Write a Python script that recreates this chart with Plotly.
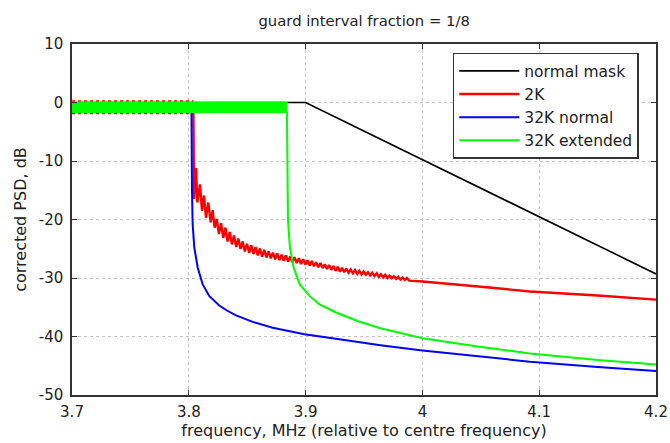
import plotly.graph_objects as go

# ---------------- data ----------------
mask_x = [3.7, 3.9, 4.2]
mask_y = [0.0, 0.0, -29.3]

# 2K: rippling flat part (envelope edges) then decaying rippled tail
red_flat_x = [3.7, 3.804]
red_flat_upper = [0.25, 0.25]
red_flat_lower = [-1.9, -1.9]

red_x = [3.7, 3.8039, 3.8045, 3.80616, 3.80731, 3.80959, 3.8113, 3.8130, 3.8147,
         3.8167, 3.8187, 3.8204, 3.8221,
         3.8239, 3.8258, 3.8276, 3.8295, 3.8313, 3.8332, 3.8350, 3.8369, 3.8387, 3.8406,
         3.8424, 3.8443, 3.8461, 3.8480, 3.8498, 3.8517, 3.8535, 3.8554, 3.8572, 3.8591,
         3.8609, 3.8628, 3.8646, 3.8665, 3.8683, 3.8702, 3.8720, 3.8739, 3.8757, 3.8776,
         3.8794, 3.8813, 3.8831, 3.8850, 3.8868, 3.8887, 3.8905, 3.8924, 3.8942, 3.8961,
         3.8979, 3.8998, 3.9016, 3.9035, 3.9053, 3.9072, 3.9090, 3.9109, 3.9127, 3.9146,
         3.9164, 3.9183, 3.9201, 3.9220, 3.9238, 3.9257, 3.9275, 3.9294, 3.9312, 3.9331,
         3.9349, 3.9368, 3.9386, 3.9405, 3.9423, 3.9442, 3.9460, 3.9479, 3.9497, 3.9516,
         3.9534, 3.9553, 3.9571, 3.9590, 3.9608, 3.9627, 3.9645, 3.9664, 3.9682, 3.9701,
         3.9719, 3.9738, 3.9756, 3.9775, 3.9793, 3.9812, 3.9830, 3.9849, 3.9867, 3.9886,
         4.0, 4.05, 4.092, 4.15, 4.2]
red_y = [-1.5, -1.5, -16.5, -11.2, -17.1, -14.0, -18.5, -15.9, -19.7,
         -17.1, -20.5, -18.4, -21.4,
         -19.9, -22.5, -20.65, -23.15, -21.4, -23.75, -22.15, -24.25, -22.75, -24.7,
         -23.25, -25.05, -23.75, -25.45, -24.15, -25.7, -24.4, -25.9, -24.7, -26.15,
         -24.95, -26.35, -25.2, -26.5, -25.4, -26.65, -25.65, -26.8, -25.8, -26.95,
         -26.0, -27.05, -26.15, -27.2, -26.3, -27.3, -26.45, -27.45, -26.6, -27.6,
         -26.8, -27.7, -26.95, -27.85, -27.1, -28.0, -27.3, -28.15, -27.45, -28.3,
         -27.65, -28.45, -27.8, -28.6, -27.95, -28.75, -28.1, -28.9, -28.25, -29.0,
         -28.4, -29.1, -28.55, -29.2, -28.65, -29.3, -28.75, -29.4, -28.9, -29.45,
         -29.0, -29.55, -29.1, -29.65, -29.2, -29.8, -29.35, -29.9, -29.45, -30.0,
         -29.6, -30.05, -29.7, -30.15, -29.8, -30.25, -29.9, -30.35, -30.0, -30.45,
         -30.6, -31.5, -32.3, -33.0, -33.7]

# 32K normal
blue_x = [3.7, 3.8023, 3.80274, 3.8033, 3.8047, 3.8076, 3.8119, 3.8176, 3.8261,
          3.8330, 3.8404, 3.8547, 3.8718, 3.8989, 3.926, 3.964, 4.0, 4.05, 4.092,
          4.15, 4.2]
blue_y = [-1.5, -1.5, -15.1, -20.8, -24.8, -28.2, -31.1, -33.1, -34.7,
          -35.6, -36.4, -37.5, -38.5, -39.6, -40.4, -41.5, -42.4, -43.5, -44.3,
          -45.2, -45.9]

# 32K extended: rippling flat band then tail
green_band_x = [3.7, 3.884]
green_band_upper = [0.0, 0.0]
green_band_lower = [-1.65, -1.65]

green_x = [3.884, 3.8843, 3.8849, 3.8866, 3.8897, 3.8950, 3.9035, 3.9117, 3.926,
           3.945, 3.964, 4.0, 4.05, 4.092, 4.15, 4.2]
green_y = [-1.5, -15.1, -20.1, -24.8, -28.2, -31.1, -33.1, -34.5, -35.9,
           -37.4, -38.6, -40.3, -41.8, -42.9, -44.0, -44.8]

x_ticks = [3.7, 3.8, 3.9, 4.0, 4.1, 4.2]
x_tick_labels = ["3.7", "3.8", "3.9", "4", "4.1", "4.2"]
y_ticks = [10, 0, -10, -20, -30, -40, -50]
y_tick_labels = ["10", "0", "-10", "-20", "-30", "-40", "-50"]

FONT = "DejaVu Sans, Liberation Sans, Arial, sans-serif"
TXT = "#222222"
BLACK = "#000000"
RED = "#ff0000"
BLUE = "#0000ff"
GREEN = "#00ff00"

fig = go.Figure()

fig.add_trace(go.Scatter(x=mask_x, y=mask_y, mode="lines", name="normal mask",
                         line=dict(color=BLACK, width=1.6)))

# red flat ripple band edges (peeking out from under green)
fig.add_trace(go.Scatter(x=red_flat_x, y=red_flat_upper, mode="lines", showlegend=False,
                         line=dict(color=RED, width=1.5, dash="dot"), hoverinfo="skip"))
fig.add_trace(go.Scatter(x=red_flat_x, y=red_flat_lower, mode="lines", showlegend=False,
                         line=dict(color=RED, width=1.5, dash="dot"), hoverinfo="skip"))
fig.add_trace(go.Scatter(x=red_x, y=red_y, mode="lines", name="2K",
                         line=dict(color=RED, width=2.4)))

fig.add_trace(go.Scatter(x=blue_x, y=blue_y, mode="lines", name="32K normal",
                         line=dict(color=BLUE, width=2)))

# green band
fig.add_trace(go.Scatter(x=green_band_x, y=green_band_lower, mode="lines", showlegend=False,
                         line=dict(color=GREEN, width=1.5), hoverinfo="skip"))
fig.add_trace(go.Scatter(x=green_band_x, y=green_band_upper, mode="lines", showlegend=False,
                         fill="tonexty", fillcolor=GREEN,
                         line=dict(color=GREEN, width=1.5), hoverinfo="skip"))
fig.add_trace(go.Scatter(x=green_x, y=green_y, mode="lines", name="32K extended",
                         line=dict(color=GREEN, width=2)))

axis_common = dict(
    showline=True, linecolor="#333333", linewidth=1.5, mirror="ticks",
    ticks="inside", ticklen=5, tickcolor="#333333", tickwidth=1.2,
    showgrid=True, gridcolor="#c4c4c4", gridwidth=1, griddash="dot",
    zeroline=False, automargin=False,
    tickfont=dict(family=FONT, size=15, color=TXT),
)

fig.update_xaxes(range=[3.7, 4.2], tickvals=x_ticks, ticktext=x_tick_labels,
                 title=dict(text="frequency, MHz (relative to centre frequency)",
                            font=dict(family=FONT, size=16, color=TXT), standoff=4),
                 ticklabelstandoff=2, **axis_common)
fig.update_yaxes(range=[-50, 10], tickvals=y_ticks, ticktext=y_tick_labels,
                 title=dict(text="corrected PSD, dB",
                            font=dict(family=FONT, size=16, color=TXT), standoff=8),
                 ticklabelstandoff=4, **axis_common)

fig.update_layout(
    width=670, height=443,
    margin=dict(l=72, r=14, t=44, b=48),
    paper_bgcolor="white", plot_bgcolor="white",
    title=dict(text="guard interval fraction = 1/8", x=0.5435, xanchor="center",
               y=0.953, yanchor="middle",
               font=dict(family=FONT, size=14.8, color=TXT)),
    legend=dict(x=0.652, y=0.975, xanchor="left", yanchor="top",
                bgcolor="white", bordercolor="#333333", borderwidth=1.5,
                font=dict(family=FONT, size=15.5, color=TXT),
                traceorder="normal", tracegroupgap=0, itemwidth=60),
    showlegend=True,
)

# remove the default page margin so the 670x443 figure fills the window exactly
fig.write_html("out.html",
               config={"displayModeBar": False},
               post_script="document.body.style.margin='0';document.body.style.overflow='hidden';")
